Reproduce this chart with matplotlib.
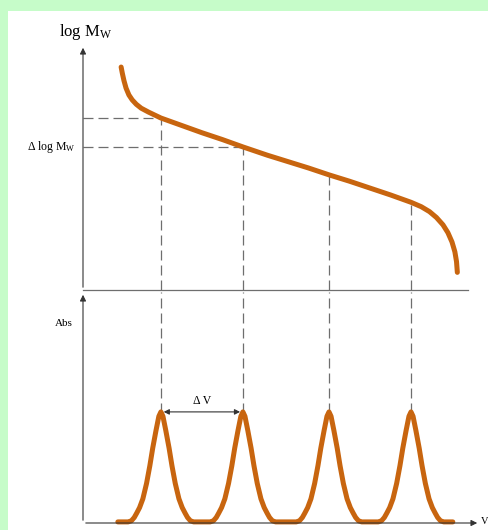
import matplotlib
matplotlib.use('Agg')
import matplotlib.pyplot as plt
from matplotlib.patches import Rectangle

plt.rcParams['font.family'] = ['Liberation Serif', 'DejaVu Serif']
plt.rcParams['mathtext.fontset'] = 'custom'
plt.rcParams['mathtext.rm'] = 'Liberation Serif'

# calibration curve: elution volume V vs log Mw
cal_v = [0.93, 0.96, 1.0, 1.05, 1.12, 1.2, 1.3, 1.42, 1.6, 1.9, 2.4, 2.9, 3.4, 3.9,
         4.5, 5.0, 5.5, 6.0, 6.5, 7.0, 7.5, 8.0, 8.25, 8.45, 8.62, 8.78, 8.9, 9.0, 9.07, 9.11, 9.13]
cal_logm = [4.55, 4.42, 4.27, 4.12, 3.98, 3.88, 3.79, 3.71, 3.63, 3.51, 3.36, 3.21, 3.07, 2.92,
            2.75, 2.62, 2.49, 2.35, 2.22, 2.08, 1.94, 1.79, 1.7, 1.6, 1.48, 1.33, 1.17, 0.98, 0.78, 0.58, 0.36]

# peak positions and one peak profile (offset from centre, relative height)
peak_v = [1.9, 3.9, 6.0, 8.0]
peak_logm = [3.51, 2.92, 2.35, 1.79]
prof_dv = [-0.8, -0.72, -0.65, -0.59, -0.52, -0.44, -0.35, -0.27, -0.2, -0.12, -0.05, 0.0,
           0.05, 0.12, 0.2, 0.27, 0.35, 0.44, 0.52, 0.59, 0.65, 0.72, 0.8]
prof_h = [0.0, 0.01, 0.04, 0.08, 0.13, 0.21, 0.35, 0.51, 0.67, 0.83, 0.96, 1.0,
          0.96, 0.83, 0.67, 0.51, 0.35, 0.21, 0.13, 0.08, 0.04, 0.01, 0.0]
trace_start, trace_end = 0.85, 9.02

orange = '#c8650f'
grey = '#6e6e6e'
dash = (0, (8, 4))

fig = plt.figure(figsize=(4.89, 5.30), dpi=100)
fig.patch.set_facecolor('#c6fcc9')
fig.patches.append(Rectangle((8 / 489, 0), 1, 1 - 11 / 530, transform=fig.transFigure,
                             facecolor='white', edgecolor='none', zorder=-10))

W, H = 489, 530
ax1 = fig.add_axes([83 / W, 1 - 290 / H, 385 / W, 245 / H])
ax2 = fig.add_axes([83 / W, 1 - 523 / H, 397 / W, 231 / H])
for ax in (ax1, ax2):
    ax.set_facecolor('none')
    for s in ax.spines.values():
        s.set_visible(False)
    ax.set_xticks([])
    ax.set_yticks([])
ax1.set_xlim(0, 385 / 41)
ax1.set_ylim(0, 5.0)
ax2.set_xlim(0, 397 / 41)
ax2.set_ylim(0, 2.1)

# axes lines
ax1.plot([0, 1], [0, 0], color=grey, lw=0.9, transform=ax1.transAxes, clip_on=False)
ax1.annotate('', xy=(0, 1), xytext=(0, 0), xycoords='axes fraction',
             arrowprops=dict(arrowstyle='-|>', color='#333333', lw=0.8, mutation_scale=9))
ax2.annotate('', xy=(0, 1), xytext=(0, 0), xycoords='axes fraction',
             arrowprops=dict(arrowstyle='-|>', color='#333333', lw=0.8, mutation_scale=9))
ax2.annotate('', xy=(1, 0), xytext=(0, 0), xycoords='axes fraction',
             arrowprops=dict(arrowstyle='-|>', color='#333333', lw=0.8, mutation_scale=9))

# dashed guide lines
for v, lm in zip(peak_v, peak_logm):
    ax1.plot([v, v], [0, lm], color=grey, lw=0.9, ls=dash, clip_on=False)
    ax2.plot([v, v], [1.0, 2.1], color=grey, lw=0.9, ls=dash, clip_on=False)
for v, lm in zip(peak_v[:2], peak_logm[:2]):
    ax1.plot([0, v], [lm, lm], color=grey, lw=0.9, ls=dash)

# calibration curve
ax1.plot(cal_v, cal_logm, color=orange, lw=3.6, solid_capstyle='round', solid_joinstyle='round')

# chromatogram
tx, ty = [trace_start], [0.01]
for v in peak_v:
    tx += [v + d for d in prof_dv]
    ty += [0.01 + h for h in prof_h]
tx.append(trace_end)
ty.append(0.01)
ax2.plot(tx, ty, color=orange, lw=3.6, solid_capstyle='round', solid_joinstyle='round', clip_on=False)

# delta V arrow
ax2.annotate('', xy=(peak_v[1], 1.01), xytext=(peak_v[0], 1.01),
             arrowprops=dict(arrowstyle='<|-|>', color='#333333', lw=0.8, mutation_scale=8))
ax2.text((peak_v[0] + peak_v[1]) / 2, 1.11, 'Δ V', ha='center', va='center', fontsize=8.5)

# labels
fig.text(86 / W, 1 - 32 / H, r'log $\mathrm{M_W}$', ha='center', va='center', fontsize=12)
fig.text(76 / W, 1 - 147 / H, r'Δ log $\mathrm{M_W}$', ha='right', va='center', fontsize=8.5)
fig.text(64 / W, 1 - 324 / H, 'Abs', ha='center', va='center', fontsize=8)
fig.text(481 / W, 1 - 521 / H, 'V', ha='left', va='center', fontsize=7.5)

fig.savefig('out.png', dpi=100, facecolor=fig.get_facecolor())
